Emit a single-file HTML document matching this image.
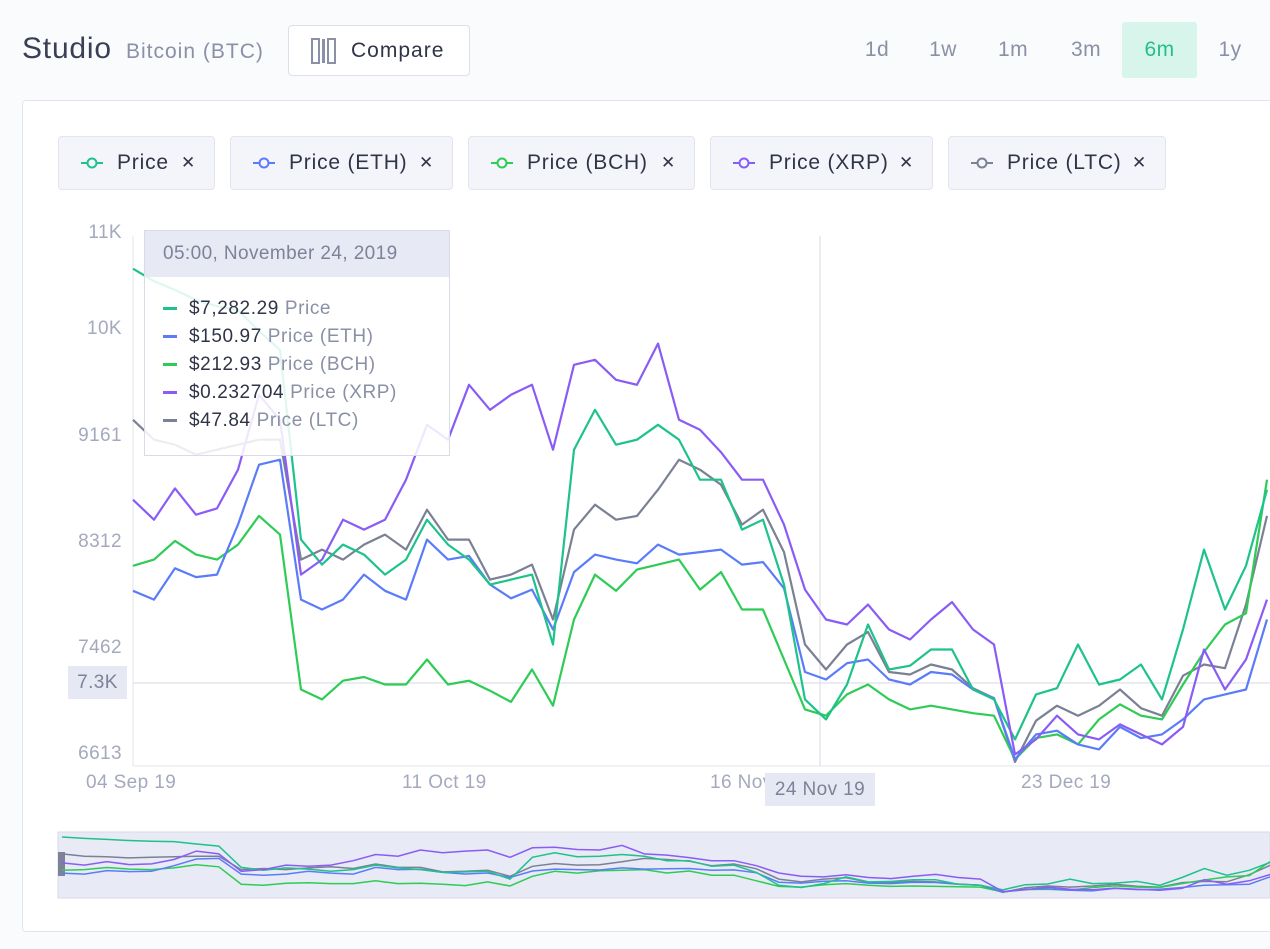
<!DOCTYPE html>
<html><head><meta charset="utf-8"><style>
body{margin:0;width:1270px;height:949px;overflow:hidden;background:#fafbfd;font-family:"Liberation Sans",sans-serif;position:relative;letter-spacing:0.4px}
.abs{position:absolute}
.tb{position:absolute;top:22px;height:56px;line-height:56px;font-size:21px;color:#8a90a6;text-align:center;width:64px}
.chip{position:absolute;top:136px;height:54px;background:#f4f5fa;border:1px solid #e3e5ee;border-radius:4px;box-sizing:border-box;font-size:21px;color:#2f3447;line-height:52px;letter-spacing:0.8px}
.chip .ic{position:absolute;left:22px;top:20px;width:22px;height:12px}
.chip .t{position:absolute;left:58px}
.chip .x{position:absolute;right:18px;font-size:17px}
.yl{position:absolute;right:1148px;font-size:19px;color:#a4a9bd}
.xl{position:absolute;top:772px;font-size:19px;color:#a4a9bd}
.row{position:absolute;left:18px;font-size:19px;color:#2f3447;letter-spacing:0.6px}
.row i{display:inline-block;width:14px;height:3px;vertical-align:middle;margin-right:12px}
.row span{color:#8a90a6}
</style></head><body>
<div class="abs" style="left:22px;top:32px;font-size:30px;color:#3a3f55;letter-spacing:0.8px">Studio</div>
<div class="abs" style="left:126px;top:40px;font-size:21px;color:#8a90a6;letter-spacing:1px">Bitcoin (BTC)</div>
<div class="abs" style="left:288px;top:25px;width:182px;height:51px;border:1px solid #dde0ea;border-radius:4px;box-sizing:border-box;background:#fff">
 <svg class="abs" style="left:22px;top:12px" width="26" height="26"><rect x="1" y="1" width="7" height="24" fill="none" stroke="#8a90a6" stroke-width="2"/><rect x="11" y="1" width="3" height="24" fill="#8a90a6"/><rect x="17" y="1" width="7" height="24" fill="none" stroke="#8a90a6" stroke-width="2"/></svg>
 <span class="abs" style="left:62px;top:13px;font-size:21px;color:#2f3447;letter-spacing:1px">Compare</span></div>
<div class="tb" style="left:845px">1d</div>
<div class="tb" style="left:911px">1w</div>
<div class="tb" style="left:981px">1m</div>
<div class="tb" style="left:1054px">3m</div>
<div class="tb" style="left:1122px;width:75px;background:#d8f5eb;color:#23bf8e;border-radius:3px">6m</div>
<div class="tb" style="left:1198px">1y</div>
<div class="abs" style="left:22px;top:100px;width:1270px;height:832px;background:#fff;border:1px solid #e3e5ee;border-radius:4px;box-sizing:border-box"></div>
<div id="chips"></div>
<svg class="abs" id="chart" style="left:0;top:0" width="1270" height="949"></svg>
<div class="yl" style="top:222px">11K</div>
<div class="yl" style="top:318px">10K</div>
<div class="yl" style="top:425px">9161</div>
<div class="yl" style="top:531px">8312</div>
<div class="yl" style="top:637px">7462</div>
<div class="yl" style="top:743px">6613</div>
<div class="abs" style="left:68px;top:666px;width:59px;height:33px;background:#e6e8f3;color:#7d8299;font-size:19px;line-height:33px;text-align:center">7.3K</div>
<div class="xl" style="left:86px">04 Sep 19</div>
<div class="xl" style="left:402px">11 Oct 19</div>
<div class="xl" style="left:710px">16 Nov 19</div>
<div class="xl" style="left:1021px">23 Dec 19</div>
<div class="abs" style="left:765px;top:773px;width:110px;height:33px;background:#e6e8f3;color:#7d8299;font-size:19px;line-height:33px;text-align:center">24 Nov 19</div>
<div class="abs" style="left:144px;top:230px;width:306px;height:226px;background:rgba(255,255,255,0.86);border:1px solid #d8dbe8;box-sizing:border-box">
 <div style="height:46px;background:rgba(230,232,243,0.95);color:#7d8299;font-size:19px;line-height:46px;padding-left:18px">05:00, November 24, 2019</div>
 <div class="row" style="top:67px"><i style="background:#1ec28b"></i>$7,282.29 <span>Price</span></div>
 <div class="row" style="top:95px"><i style="background:#5b7cfa"></i>$150.97 <span>Price (ETH)</span></div>
 <div class="row" style="top:123px"><i style="background:#2ecc55"></i>$212.93 <span>Price (BCH)</span></div>
 <div class="row" style="top:151px"><i style="background:#8a5cf6"></i>$0.232704 <span>Price (XRP)</span></div>
 <div class="row" style="top:179px"><i style="background:#7b8194"></i>$47.84 <span>Price (LTC)</span></div>
</div>
<script>
const seriesNames=["Price","Price (ETH)","Price (BCH)","Price (XRP)","Price (LTC)"];
const seriesColors=["#1ec28b","#5b7cfa","#2ecc55","#8a5cf6","#7b8194"];
const priceBTC=[10500,10400,10330,10250,10200,10170,10000,9850,8330,8130,8290,8210,8050,8170,8490,8290,8170,7970,8010,8050,7490,9050,9370,9090,9130,9250,9130,8810,8810,8410,8490,7970,7050,6890,7170,7650,7290,7320,7450,7450,7130,7050,6730,7090,7140,7490,7170,7210,7330,7050,7610,8250,7770,8120,8730];
const priceETH=[7920,7850,8100,8030,8050,8450,8930,8970,7850,7770,7850,8050,7920,7850,8330,8170,8200,7970,7860,7930,7610,8070,8210,8170,8140,8290,8210,8230,8250,8130,8150,7940,7270,7210,7340,7370,7210,7170,7270,7250,7130,7060,6570,6770,6800,6690,6650,6830,6740,6770,6890,7050,7090,7130,7690];
const priceBCH=[8120,8170,8320,8210,8170,8290,8520,8370,7130,7050,7200,7230,7170,7170,7370,7170,7200,7120,7030,7290,7000,7690,8050,7920,8090,8130,8170,7930,8070,7770,7770,7370,6970,6920,7090,7170,7050,6970,7000,6970,6940,6920,6570,6740,6770,6690,6890,7010,6920,6890,7170,7430,7650,7740,8810];
const priceXRP=[8650,8490,8740,8530,8580,8890,9490,9290,8050,8170,8490,8410,8490,8810,9250,9130,9570,9370,9490,9570,9050,9730,9770,9610,9570,9900,9290,9210,9030,8810,8810,8450,7930,7690,7650,7810,7610,7530,7690,7830,7610,7490,6610,6730,6920,6770,6730,6850,6770,6690,6830,7450,7130,7370,7850];
const priceLTC=[9290,9130,9090,9010,9050,9090,9130,9130,8170,8250,8170,8290,8370,8250,8570,8330,8330,8010,8050,8130,7690,8410,8610,8490,8520,8730,8970,8890,8770,8450,8570,8230,7490,7290,7490,7590,7270,7250,7330,7290,7140,7060,6550,6880,7000,6920,7000,7130,6980,6920,7240,7330,7300,7810,8520];
const allSeries=[priceLTC,priceBCH,priceETH,priceBTC,priceXRP];
const order=[4,2,1,0,3];
const svg=document.getElementById('chart');const NS='http://www.w3.org/2000/svg';
function yScale(v){return 754-(v-6613)*106/849;}
function xScale(i){return 133+i*21;}
function nyScale(v){return 893-(v-6500)*56/4000;}
function nxScale(i){return 62+i*22.4;}
function mk(t,a){const e=document.createElementNS(NS,t);for(const k in a)e.setAttribute(k,a[k]);svg.appendChild(e);return e;}
let e;
e=mk('line',{x1:133,y1:236,x2:133,y2:766,stroke:'#e3e5ee'});


e=mk('line',{x1:133,y1:766,x2:1270,y2:766,stroke:'#e3e5ee'});


e=mk('line',{x1:133,y1:683,x2:1270,y2:683,stroke:'#d5d8e6'});


e=mk('line',{x1:820,y1:236,x2:820,y2:766,stroke:'#d5d8e6'});


e=mk('rect',{x:58,y:832,width:1212,height:66,fill:'#e8eaf5',stroke:'#d8dbe8'});


e=mk('rect',{x:58,y:852,width:7,height:24,fill:'#7d8299'});


allSeries.forEach((s,k)=>{
 const c=seriesColors[order[k]];
 const d=s.map((v,i)=>(i?'L':'M')+xScale(i)+','+yScale(v).toFixed(1)).join('');
 const p=mk('path',{d:d,fill:'none',stroke:c,'stroke-width':2.2,'stroke-linejoin':'round'});
 
 
 const nd=s.map((v,i)=>(i?'L':'M')+nxScale(i).toFixed(1)+','+nyScale(v).toFixed(1)).join('');
 const np=mk('path',{d:nd,fill:'none',stroke:c,'stroke-width':1.5});
 
 
});
const chipLeft=[58,230,468,710,948],chipW=[157,223,227,223,218];
const chips=document.getElementById('chips');
seriesNames.forEach((n,i)=>{
 const d=document.createElement('div');d.className='chip';
 
 
 d.style.left=chipLeft[i]+'px';d.style.width=chipW[i]+'px';
 d.innerHTML='<svg class="ic" viewBox="0 0 22 12"><line x1="0" y1="6" x2="22" y2="6" stroke="'+seriesColors[i]+'" stroke-width="2"/><circle cx="11" cy="6" r="4.5" fill="#f4f5fa" stroke="'+seriesColors[i]+'" stroke-width="2"/></svg><span class="t">'+n+'</span><span class="x">✕</span>';
 chips.appendChild(d);
});
</script>
</body></html>
